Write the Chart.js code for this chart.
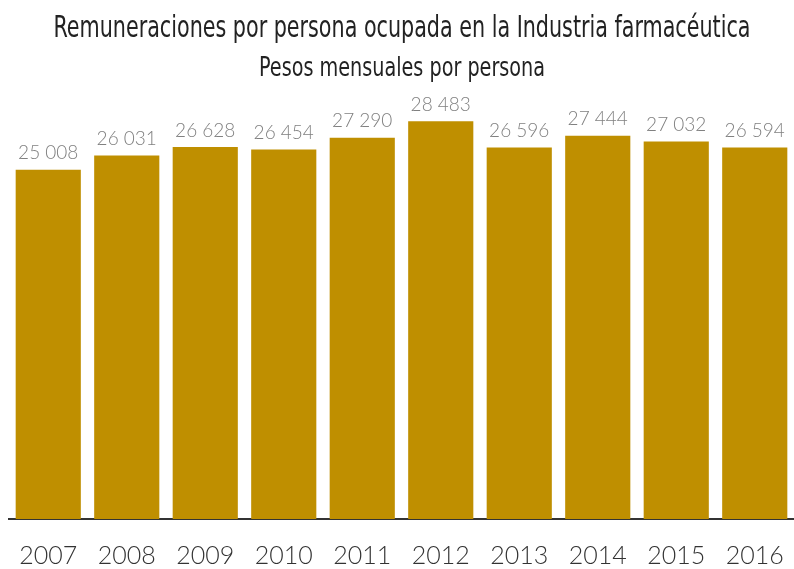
<!DOCTYPE html>
<html>
<head>
<meta charset="utf-8">
<script src="https://cdn.jsdelivr.net/npm/chart.js@4"></script>
<style>
  body { margin: 0; background: #fff; }
  #wrap { width: 794px; height: 569px; }
</style>
</head>
<body>
<div id="wrap"><canvas id="remChart" width="794" height="569"></canvas></div>
<script>
// datos: remuneraciones, pesos mensuales por persona
var years = ['2007', '2008', '2009', '2010', '2011', '2012', '2013', '2014', '2015', '2016'];
var remuneraciones = [25008, 26031, 26628, 26454, 27290, 28483, 26596, 27444, 27032, 26594];

var titulo = 'Remuneraciones por persona ocupada en la Industria farmacéutica';
var subtitulo = 'Pesos mensuales por persona';

var condensed = '"DejaVu Sans Condensed", "Liberation Sans Narrow", sans-serif';
var light = 'Lato, "Open Sans", sans-serif';

function fmt(v) {
    return String(v).replace(/\B(?=(\d{3})+(?!\d))/g, ' ');
}

// título y subtítulo (comprimidos para imitar la fuente condensada)
var titles = {
    id: 'titles',
    afterDraw: function(chart) {
        var ctx = chart.ctx;
        ctx.save();
        ctx.fillStyle = '#222222';
        ctx.textAlign = 'center';
        ctx.textBaseline = 'alphabetic';
        ctx.font = '31px ' + condensed;
        ctx.fillText(titulo, 402, 37, 697);
        ctx.font = '26px ' + condensed;
        ctx.fillText(subtitulo, 402, 76, 286);
        ctx.restore();
    }
};

// etiquetas de valor sobre cada barra
var valueLabels = {
    id: 'valueLabels',
    afterDatasetsDraw: function(chart) {
        var ctx = chart.ctx;
        var meta = chart.getDatasetMeta(0);
        ctx.save();
        ctx.font = '300 19px ' + light;
        ctx.fillStyle = '#808080';
        ctx.textAlign = 'center';
        ctx.textBaseline = 'bottom';
        meta.data.forEach(function(bar, i) {
            ctx.fillText(fmt(remuneraciones[i]), bar.x, bar.y - 7);
        });
        ctx.restore();
    }
};

var ctx = document.getElementById('remChart').getContext('2d');
var remChart = new Chart(ctx, {
    type: 'bar',
    data: {
        labels: years,
        datasets: [{
            data: remuneraciones,
            backgroundColor: '#BF8F00',
            borderWidth: 0,
            barPercentage: 0.83,
            categoryPercentage: 1.0
        }]
    },
    options: {
        responsive: false,
        animation: false,
        layout: { padding: { left: 9, right: 0, top: 100, bottom: 0 } },
        plugins: {
            legend: { display: false },
            tooltip: { enabled: false },
            title: { display: false }
        },
        scales: {
            x: {
                grid: { display: false, drawTicks: false },
                border: { display: true, color: '#333333', width: 2 },
                ticks: {
                    color: '#333333',
                    padding: 22,
                    font: { family: light, size: 25, weight: '300' }
                },
                afterFit: function(scale) {
                    scale.height = 50;
                    scale.paddingLeft = 0;
                    scale.paddingRight = 0;
                }
            },
            y: {
                display: false,
                min: 0,
                max: 30000
            }
        }
    },
    plugins: [valueLabels, titles]
});
</script>
</body>
</html>
